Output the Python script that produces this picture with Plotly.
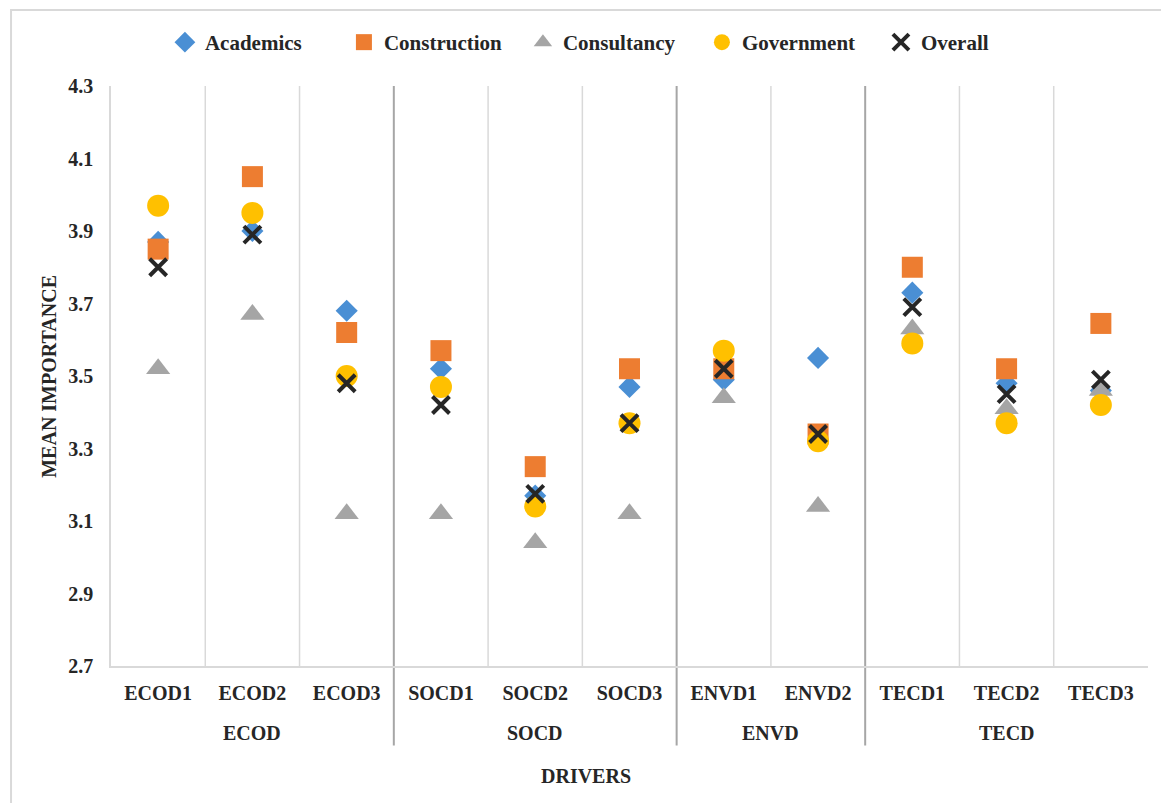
import plotly.graph_objects as go

categories = ["ECOD1", "ECOD2", "ECOD3", "SOCD1", "SOCD2", "SOCD3",
              "ENVD1", "ENVD2", "TECD1", "TECD2", "TECD3"]
groups = ["ECOD", "SOCD", "ENVD", "TECD"]
group_sizes = [3, 3, 2, 3]

academics    = [3.87, 3.90, 3.68, 3.52, 3.17, 3.47, 3.49, 3.55, 3.73, 3.48, 3.46]
construction = [3.85, 4.05, 3.62, 3.57, 3.25, 3.52, 3.52, 3.34, 3.80, 3.52, 3.645]
consultancy  = [3.52, 3.67, 3.12, 3.12, 3.04, 3.12, 3.44, 3.14, 3.63, 3.41, 3.46]
government   = [3.97, 3.95, 3.50, 3.47, 3.14, 3.37, 3.57, 3.32, 3.59, 3.37, 3.42]
overall      = [3.80, 3.89, 3.48, 3.42, 3.175, 3.37, 3.52, 3.34, 3.69, 3.45, 3.49]

y_ticks = [2.7, 2.9, 3.1, 3.3, 3.5, 3.7, 3.9, 4.1, 4.3]

FONT = "Liberation Serif"
x = list(range(len(categories)))

series = [
    ("Academics", academics, dict(symbol="diamond", size=17, color="#4A8FD4")),
    ("Construction", construction, dict(symbol="square", size=21, color="#ED7D31")),
    ("Consultancy", consultancy, dict(symbol="triangle-up", size=21, color="#A5A5A5")),
    ("Government", government, dict(symbol="circle", size=22, color="#FFC000")),
    ("Overall", overall, dict(symbol="x-thin", size=17, color="#262626",
                              line=dict(width=4, color="#262626"))),
]

fig = go.Figure()
for name, vals, mk in series:
    fig.add_trace(go.Scatter(x=x, y=vals, mode="markers", name=f"<b>{name}</b>", marker=mk,
                             cliponaxis=False))

shapes = []
sep_after = []
acc = 0
for s in group_sizes[:-1]:
    acc += s
    sep_after.append(acc - 0.5)
for i in range(len(categories) - 1):
    xv = i + 0.5
    if xv in sep_after:
        continue
    shapes.append(dict(type="line", xref="x", yref="paper", x0=xv, x1=xv, y0=0, y1=1,
                       line=dict(color="#D9D9D9", width=1.5), layer="below"))
for xv in sep_after:
    shapes.append(dict(type="line", xref="x", yref="paper", x0=xv, x1=xv, y0=-0.137, y1=1,
                       line=dict(color="#A6A6A6", width=2), layer="below"))
shapes.append(dict(type="rect", xref="paper", yref="paper",
                   x0=-0.0964, x1=1.05, y0=-0.3, y1=1.131,
                   line=dict(color="#D9D9D9", width=2)))

annotations = []
start = 0
for g, s in zip(groups, group_sizes):
    cx = start + (s - 1) / 2
    annotations.append(dict(x=cx, y=-0.115, xref="x", yref="paper", text=f"<b>{g}</b>",
                            showarrow=False, font=dict(family=FONT, size=20, color="#262626"),
                            yanchor="middle"))
    start += s
annotations.append(dict(x=0.458, y=-0.189, xref="paper", yref="paper", text="<b>DRIVERS</b>",
                        showarrow=False, font=dict(family=FONT, size=20, color="#262626"),
                        yanchor="middle"))
annotations.append(dict(x=-0.06, y=0.5, xref="paper", yref="paper",
                        text="<b>MEAN IMPORTANCE</b>", textangle=-90, showarrow=False,
                        font=dict(family=FONT, size=20, color="#262626"), xanchor="center"))

fig.update_layout(
    width=1161, height=803,
    margin=dict(l=111, r=13, t=86, b=137),
    paper_bgcolor="white", plot_bgcolor="white",
    font=dict(family=FONT, color="#262626"),
    showlegend=True,
    legend=dict(orientation="h", x=0.052, xanchor="left", y=1.075, yanchor="middle",
                font=dict(family=FONT, size=21, color="#262626"),
                itemsizing="trace", tracegroupgap=0,
                entrywidth=134, entrywidthmode="pixels"),
    shapes=shapes,
    annotations=annotations,
)
fig.update_xaxes(range=[-0.5, len(categories) - 0.5], tickmode="array", tickvals=x,
                 ticktext=[f"<b>{c}</b>" for c in categories],
                 tickfont=dict(family=FONT, size=20, color="#262626"),
                 showgrid=False, zeroline=False, showline=True, linecolor="#D9D9D9",
                 linewidth=1.5, ticks="", ticklabelstandoff=8)
fig.update_yaxes(range=[2.7, 4.3], tickmode="array", tickvals=y_ticks,
                 ticktext=[f"<b>{v:.1f}</b>" for v in y_ticks],
                 tickfont=dict(family=FONT, size=20, color="#262626"),
                 showgrid=False, zeroline=False, showline=True, linecolor="#D9D9D9",
                 linewidth=1.5, ticks="", ticklabelstandoff=12)

fig.write_html("out.html")
